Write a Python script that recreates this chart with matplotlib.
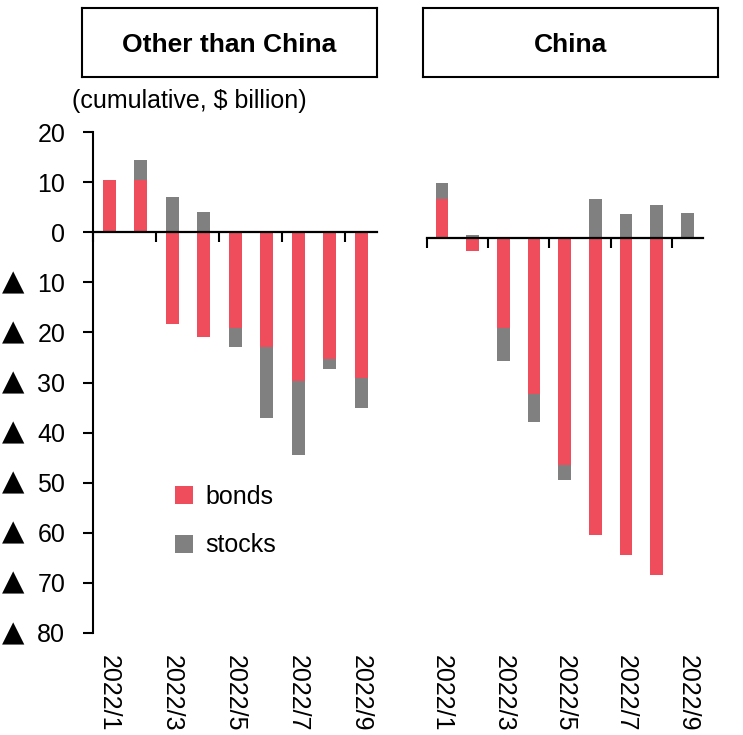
import matplotlib
matplotlib.use('Agg')
import matplotlib.pyplot as plt
import matplotlib.transforms as mtransforms
from matplotlib.font_manager import fontManager

# ---- data ----
months = ['2022/1', '2022/2', '2022/3', '2022/4', '2022/5',
          '2022/6', '2022/7', '2022/8', '2022/9']
other_bonds = [10.4, 10.4, -18.3, -20.9, -19.2, -23.0, -29.7, -25.3, -29.1]
other_stocks = [0.0, 4.0, 7.1, 4.1, -3.8, -14.0, -14.8, -2.0, -6.0]
china_bonds = [7.7, -2.7, -17.9, -31.1, -45.4, -59.3, -63.3, -67.3, 0.0]
china_stocks = [3.3, 0.5, -6.6, -5.6, -2.9, 7.7, 4.7, 6.5, 4.9]
yticks = [20, 10, 0, -10, -20, -30, -40, -50, -60, -70, -80]
panel_titles = ['Other than China', 'China']
unit_label = '(cumulative, $ billion)'
series_names = ['bonds', 'stocks']
neg_mark = '▲'

RED = '#EF4C5C'
GRAY = '#808080'

names = {f.name for f in fontManager.ttflist}
BODY = ['Liberation Sans', 'DejaVu Sans']
if 'Liberation Sans Narrow' in names:
    HEAD = ['Liberation Sans Narrow', 'Liberation Sans']
    head_size = 23
else:
    HEAD = ['Liberation Sans', 'DejaVu Sans']
    head_size = 19
plt.rcParams['font.family'] = BODY

W, H = 743, 735
fig = plt.figure(figsize=(W / 100, H / 100), dpi=100)


def px_axes(x0, y0, x1, y1):
    return fig.add_axes([x0 / W, 1 - y1 / H, (x1 - x0) / W, (y1 - y0) / H])


ax_l = px_axes(93.3, 132, 376.8, 633)
ax_r = px_axes(426.7, 137.7, 702.7, 638.7)

x = list(range(len(months)))
bar_w = 0.41


def draw(ax, bonds, stocks):
    b1 = ax.bar(x, bonds, width=bar_w, color=RED, zorder=2, label=series_names[0])
    bottoms = [b if b * s > 0 else 0 for b, s in zip(bonds, stocks)]
    b2 = ax.bar(x, stocks, width=bar_w, bottom=bottoms, color=GRAY, zorder=2,
                label=series_names[1])
    ax.set_xlim(-0.5, len(months) - 0.5)
    ax.set_ylim(-80, 20)
    ax.spines['top'].set_visible(False)
    ax.spines['right'].set_visible(False)
    ax.spines['bottom'].set_position(('data', 0))
    ax.spines['bottom'].set_linewidth(1.6)
    ax.spines['bottom'].set_zorder(3)
    ax.set_xticks([-0.5, 1.5, 3.5, 5.5, 7.5])
    ax.set_xticklabels([])
    ax.tick_params(axis='x', direction='out', length=7.2, width=1.5)
    tr = mtransforms.blended_transform_factory(ax.transData, fig.transFigure)
    for i in range(0, len(months), 2):
        ax.text(i, 1 - 655 / H, months[i], transform=tr,
                rotation=270, ha='center', va='top', fontsize=18, family=BODY)
    return b1, b2


b1, b2 = draw(ax_l, other_bonds, other_stocks)
draw(ax_r, china_bonds, china_stocks)

ax_l.spines['left'].set_linewidth(1.5)
ax_l.set_yticks(yticks)
ax_l.set_yticklabels([str(abs(v)) for v in yticks], fontsize=18, family=BODY)
ax_l.tick_params(axis='y', direction='out', length=7.2, width=1.5, pad=13)
ytr = mtransforms.blended_transform_factory(fig.transFigure, ax_l.transData)
for v in yticks:
    if v < 0:
        ax_l.text(1.5 / W, v, neg_mark, transform=ytr, ha='left', va='center',
                  fontsize=21, family=['DejaVu Sans'])

ax_r.spines['left'].set_visible(False)
ax_r.set_yticks([])

# legend
ax_l.legend(handles=[b1, b2], loc='center left',
            bbox_to_anchor=(175 / W, 1 - 521 / H), bbox_transform=fig.transFigure,
            frameon=False, fontsize=18, handlelength=0.7, handleheight=0.7,
            handletextpad=0.5, labelspacing=1.0, borderpad=0, borderaxespad=0)

# header boxes
for (x0, x1), title in zip([(81.7, 376.7), (423.3, 718)], panel_titles):
    hax = px_axes(x0, 8, x1, 77)
    hax.set_xticks([])
    hax.set_yticks([])
    for s in hax.spines.values():
        s.set_linewidth(1.5)
    hax.text(0.5, 0.46, title, ha='center', va='center', fontsize=head_size,
             fontweight='bold', family=HEAD, transform=hax.transAxes)

fig.text(72 / W, 1 - 101 / H, unit_label, ha='left', va='center', fontsize=18,
         family=BODY)

fig.savefig('out.png', dpi=100)
